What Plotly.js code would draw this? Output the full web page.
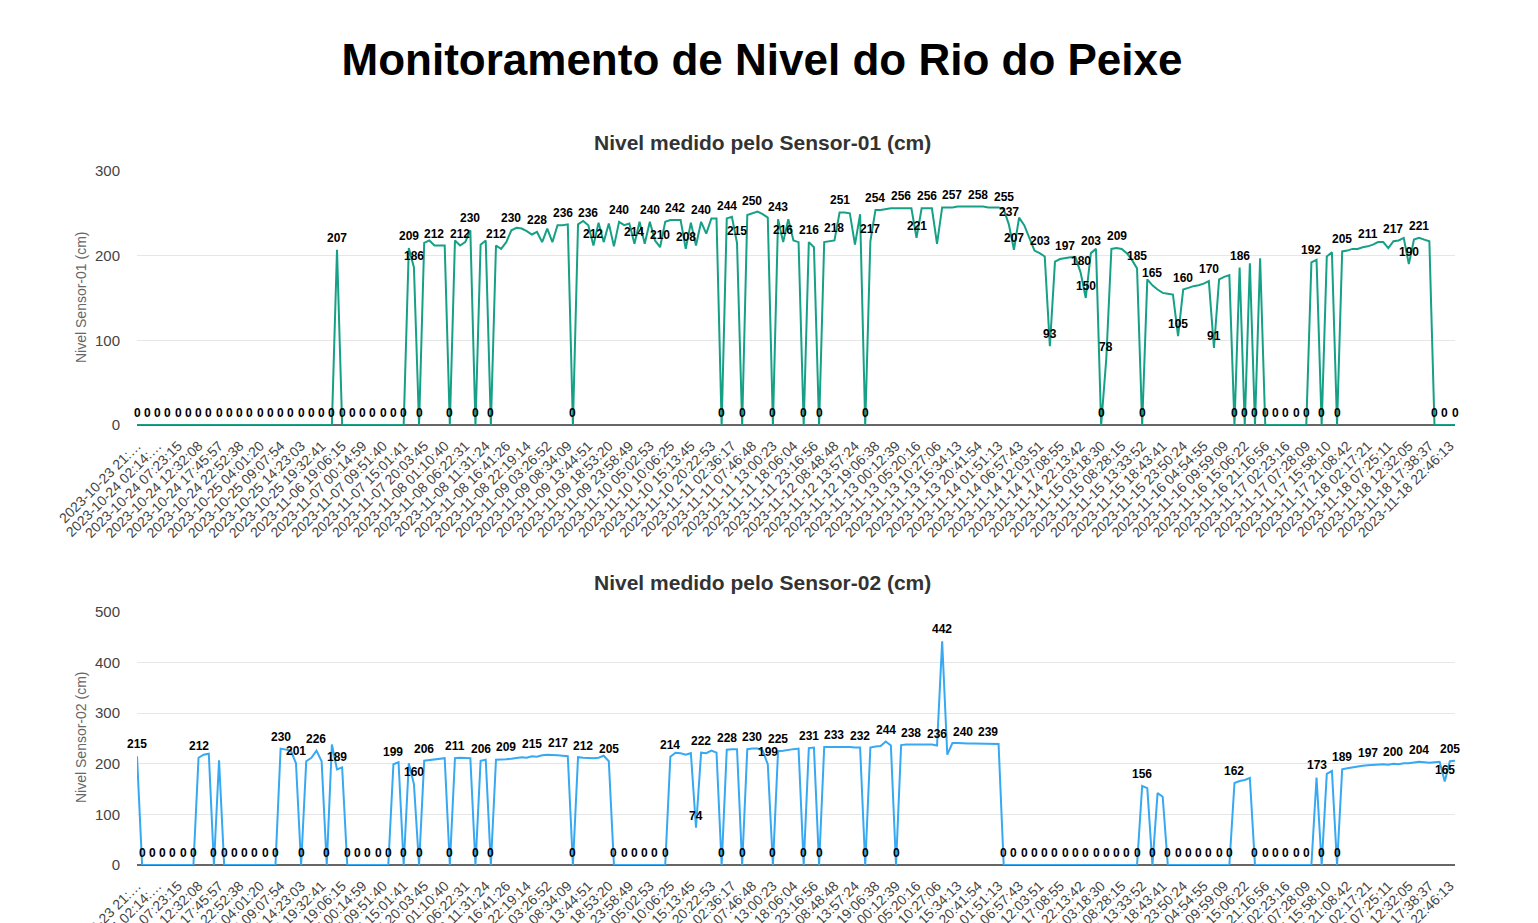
<!DOCTYPE html>
<html>
<head>
<meta charset="utf-8">
<script src="https://cdn.plot.ly/plotly-3.0.1.min.js"></script>
<style>html,body{margin:0;padding:0;background:#fff;}#chart{width:1538px;height:923px;}</style>
</head>
<body>
<div id="chart"></div>
<script>
// ---------------- DATA ----------------
const tickLabels = [
  "2023-10-23 21:…","2023-10-24 02:14:…","2023-10-24 07:23:15","2023-10-24 12:32:08","2023-10-24 17:45:57",
  "2023-10-24 22:52:38","2023-10-25 04:01:20","2023-10-25 09:07:54","2023-10-25 14:23:03","2023-10-25 19:32:41",
  "2023-11-06 19:06:15","2023-11-07 00:14:59","2023-11-07 09:51:40","2023-11-07 15:01:41","2023-11-07 20:03:45",
  "2023-11-08 01:10:40","2023-11-08 06:22:31","2023-11-08 11:31:24","2023-11-08 16:41:26","2023-11-08 22:19:14",
  "2023-11-09 03:26:52","2023-11-09 08:34:09","2023-11-09 13:44:51","2023-11-09 18:53:20","2023-11-09 23:58:49",
  "2023-11-10 05:02:53","2023-11-10 10:06:25","2023-11-10 15:13:45","2023-11-10 20:22:53","2023-11-11 02:36:17",
  "2023-11-11 07:46:48","2023-11-11 13:00:23","2023-11-11 18:06:04","2023-11-11 23:16:56","2023-11-12 08:48:48",
  "2023-11-12 13:57:24","2023-11-12 19:06:38","2023-11-13 00:12:39","2023-11-13 05:20:16","2023-11-13 10:27:06",
  "2023-11-13 15:34:13","2023-11-13 20:41:54","2023-11-14 01:51:13","2023-11-14 06:57:43","2023-11-14 12:03:51",
  "2023-11-14 17:08:55","2023-11-14 22:13:42","2023-11-15 03:18:30","2023-11-15 08:28:15","2023-11-15 13:33:52",
  "2023-11-15 18:43:41","2023-11-15 23:50:24","2023-11-16 04:54:55","2023-11-16 09:59:09","2023-11-16 15:06:22",
  "2023-11-16 21:16:56","2023-11-17 02:23:16","2023-11-17 07:28:09","2023-11-17 15:58:10","2023-11-17 21:08:42",
  "2023-11-18 02:17:21","2023-11-18 07:25:11","2023-11-18 12:32:05","2023-11-18 17:38:37","2023-11-18 22:46:13"
];

const sensor01 = [
  0,0,0,0,0,0,0,0,0,0, 0,0,0,0,0,0,0,0,0,0, 0,0,0,0,0,0,0,0,0,0, 0,0,0,0,0,0,0,0,0,
  207,
  0,0,0,0,0,0,0,0,0,0,0,0,0,
  209,186,0,215,218,212,212,212,0,218,212,216,230,0,213,218,0,212,208,216,230,
  233,232,229,225,228,216,232,216,236,236,237,
  0,
  237,241,236,212,239,216,238,211,240,236,238,214,240,214,240,218,210,240,242,242,242,208,239,212,240,226,244,244,
  0,
  244,246,215,
  0,
  248,250,252,249,245,
  0,
  243,216,243,218,216,
  0,
  216,210,
  0,
  216,217,218,251,251,250,213,249,
  0,
  217,254,254,255,256,256,256,256,256,221,256,256,256,214,257,257,257,258,258,258,258,258,258,257,257,257,
  255,237,207,245,236,220,206,203,199,93,193,196,197,198,198,180,150,203,208,0,78,208,209,208,203,195,185,0,172,165,
  160,156,155,154,105,160,162,164,165,167,170,91,172,175,177,
  0,186,0,191,0,197,0,
  0,0,0,0,0,0,0,0,
  192,195,0,199,204,0,205,
  206,208,208,210,211,213,216,216,209,217,218,221,190,219,221,219,217,
  0,0,0,0,0
];

const sensor02 = [
  215,
  0,0,0,0,0,0,0,0,0,0,0,
  212,218,220,
  0,
  207,
  0,0,0,0,0,0,0,0,0,0,0,
  230,228,226,201,
  0,
  205,212,226,205,
  0,
  238,189,193,
  0,0,0,0,0,0,0,0,0,
  199,203,
  0,
  201,160,
  0,
  206,207,208,209,211,
  0,
  211,212,212,211,
  0,
  206,208,
  0,
  208,208,209,210,212,213,212,215,214,217,218,218,217,216,215,
  0,
  213,212,211,211,212,216,205,
  0,0,0,0,0,0,0,0,0,0,0,
  214,222,221,218,221,74,222,221,226,222,
  0,
  228,229,229,
  0,
  229,230,230,226,199,
  0,
  225,226,228,229,230,
  0,
  231,232,
  0,
  233,233,233,234,233,233,232,232,
  0,
  232,234,235,244,236,
  0,
  237,238,238,238,238,238,238,236,442,218,241,241,240,240,240,240,240,239,239,239,
  0,0,0,0,0,0,0,0,0,0, 0,0,0,0,0,0,0,0,0,0, 0,0,0,0,0,0,0,
  156,152,
  0,
  142,135,
  0,0,0,0,0,0,0,0,0,0,0,0,0,
  162,166,168,172,
  0,0,0,0,0,0,0,0,0,0,0,0,
  173,
  0,
  180,186,
  0,
  189,191,193,194,196,197,198,198,199,198,200,199,201,201,203,204,203,202,203,204,
  165,205,206
];

const chartTitle = "Monitoramento de Nivel do Rio do Peixe";
const sub1 = "Nivel medido pelo Sensor-01 (cm)";
const sub2 = "Nivel medido pelo Sensor-02 (cm)";
const ytitle1 = "Nivel Sensor-01 (cm)";
const ytitle2 = "Nivel Sensor-02 (cm)";

// ---------------- LAYOUT GEOMETRY ----------------
const W = 1538, H = 923;
const PL = 137, PR = 1455;
const top1 = 171, bot1 = 425, top2 = 612, bot2 = 865;
const Y1MAX = 300, Y2MAX = 500;
const FONT = "Arial, 'Liberation Sans', sans-serif";
const C1 = "#16a085", C2 = "#36a9f2";
const LABELS_PER_TICK = 4;

const n = sensor01.length;
const xs = sensor01.map((_, i) => i);
const tickvals = tickLabels.map((_, k) => k * LABELS_PER_TICK);

function pickLabels(vals, ymax, ptop, pbot, xref, yref) {
  const placed = [];
  const anns = [];
  vals.forEach((v, i) => {
    const px = PL + i * (PR - PL) / (n - 1);
    const py = pbot - v / ymax * (pbot - ptop);
    const txt = String(v);
    const w = txt.length * 6.8;
    const cy = py - 12;
    const ok = placed.every(b => Math.abs(b.x - px) >= (b.w + w) / 2 + 1.5 || Math.abs(b.y - cy) >= 12);
    if (ok) {
      placed.push({x: px, y: cy, w: w});
      anns.push({
        xref: xref, yref: yref, x: i, y: v, text: "<b>" + txt + "</b>",
        showarrow: false, yanchor: "bottom", yshift: 3,
        font: {family: FONT, size: 12, color: "#000"}
      });
    }
  });
  return anns;
}

const annotations = []
  .concat(pickLabels(sensor01, Y1MAX, top1, bot1, "x", "y"))
  .concat(pickLabels(sensor02, Y2MAX, top2, bot2, "x2", "y2"))
  .concat([
    {xref: "paper", yref: "paper", x: 762 / W, y: 1 - 142 / H, text: "<b>" + sub1 + "</b>", showarrow: false,
     xanchor: "center", yanchor: "middle", font: {family: FONT, size: 21, color: "#333"}},
    {xref: "paper", yref: "paper", x: 762 / W, y: 1 - 582 / H, text: "<b>" + sub2 + "</b>", showarrow: false,
     xanchor: "center", yanchor: "middle", font: {family: FONT, size: 21, color: "#333"}},
    {xref: "paper", yref: "paper", x: 81 / W, y: 1 - 298 / H, text: ytitle1, showarrow: false, textangle: -90,
     xanchor: "center", yanchor: "middle", font: {family: FONT, size: 14, color: "#666"}},
    {xref: "paper", yref: "paper", x: 81 / W, y: 1 - 738 / H, text: ytitle2, showarrow: false, textangle: -90,
     xanchor: "center", yanchor: "middle", font: {family: FONT, size: 14, color: "#666"}}
  ]);

const xaxisBase = {
  range: [0, n - 1], tickmode: "array", tickvals: tickvals, ticktext: tickLabels,
  tickangle: -45, showgrid: false, zeroline: false, showline: false, ticks: "",
  tickfont: {family: FONT, size: 14, color: "#444"}, ticklabelstandoff: 9, fixedrange: true
};
const yaxisBase = {
  showgrid: true, gridcolor: "#e6e6e6", gridwidth: 1, zeroline: true, zerolinecolor: "#666", zerolinewidth: 2,
  showline: false, ticks: "", tickfont: {family: FONT, size: 15, color: "#444"}, ticklabelstandoff: 16
};

const layout = {
  width: W, height: H,
  margin: {l: 0, r: 0, t: 0, b: 0},
  paper_bgcolor: "#fff", plot_bgcolor: "#fff",
  showlegend: false,
  title: {text: "<b>" + chartTitle + "</b>", x: 762 / W, xanchor: "center", xref: "paper",
          y: 1 - 60 / H, yref: "container", yanchor: "middle",
          font: {family: FONT, size: 44, color: "#000"}},
  xaxis: Object.assign({}, xaxisBase, {domain: [PL / W, PR / W], anchor: "y"}),
  yaxis: Object.assign({}, yaxisBase, {domain: [1 - bot1 / H, 1 - top1 / H], range: [0, Y1MAX], tickvals: [0, 100, 200, 300], anchor: "x"}),
  xaxis2: Object.assign({}, xaxisBase, {domain: [PL / W, PR / W], anchor: "y2"}),
  yaxis2: Object.assign({}, yaxisBase, {domain: [1 - bot2 / H, 1 - top2 / H], range: [0, Y2MAX], tickvals: [0, 100, 200, 300, 400, 500], anchor: "x2"}),
  annotations: annotations
};

const traces = [
  {x: xs, y: sensor01, xaxis: "x", yaxis: "y", type: "scatter", mode: "lines",
   line: {color: C1, width: 2}, hoverinfo: "x+y", cliponaxis: false},
  {x: xs, y: sensor02, xaxis: "x2", yaxis: "y2", type: "scatter", mode: "lines",
   line: {color: C2, width: 2}, hoverinfo: "x+y", cliponaxis: false}
];

Plotly.newPlot("chart", traces, layout, {displayModeBar: false, responsive: false});
</script>
</body>
</html>
